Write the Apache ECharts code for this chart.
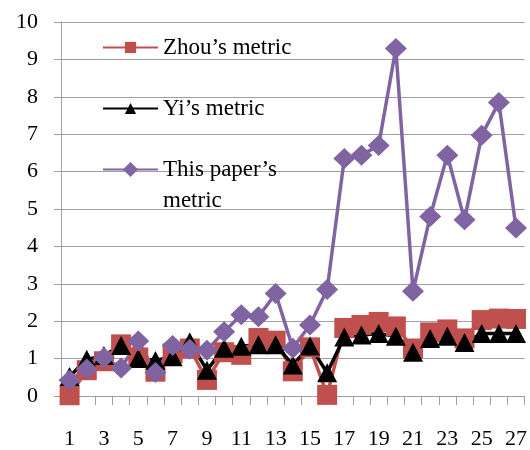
<!DOCTYPE html>
<html><head><meta charset="utf-8">
<script src="https://cdn.jsdelivr.net/npm/echarts@6/dist/echarts.min.js"></script>
<style>html,body{margin:0;padding:0;background:#fff}#c{width:530px;height:450px}</style>
</head><body><div id="c"></div>
<script>
const categories = ['1','2','3','4','5','6','7','8','9','10','11','12','13','14','15','16','17','18','19','20','21','22','23','24','25','26','27'];
const zhouName = 'Zhou’s metric';
const yiName = 'Yi’s metric';
const paperName = 'This paper’s';
const zhou = [0.02,0.69,0.93,1.38,1.03,0.65,1.14,1.27,0.43,1.17,1.10,1.55,1.48,0.66,1.30,0.03,1.82,1.90,1.98,1.86,1.27,1.70,1.78,1.54,2.03,2.07,2.06];
const yi = [0.52,0.98,1.08,1.35,1.00,0.95,1.05,1.45,0.69,1.28,1.33,1.37,1.37,0.83,1.34,0.62,1.58,1.63,1.67,1.60,1.17,1.54,1.60,1.43,1.67,1.67,1.67];
const paper = [0.42,0.72,1.02,0.75,1.47,0.63,1.35,1.25,1.22,1.72,2.17,2.12,2.74,1.28,1.90,2.85,6.35,6.44,6.70,9.29,2.80,4.80,6.44,4.71,6.97,7.85,4.49];
const yTicks = ['0','1','2','3','4','5','6','7','8','9','10'];

const FONT = '"Liberation Serif", "Times New Roman", serif';
const GRAY = '#a0a0a0';
const chart = echarts.init(document.getElementById('c'), null, {renderer: 'canvas'});
const legendBase = {
  orient: 'vertical', left: 102, padding: 0, itemWidth: 55, itemHeight: 14, selectedMode: false,
  textStyle: {fontFamily: FONT, fontSize: 23, color: '#000'}
};
chart.setOption({
  animation: false,
  backgroundColor: '#fff',
  grid: {left: 61, right: 4, top: 22, bottom: 53, containLabel: false},
  legend: [
    Object.assign({}, legendBase, {data: [zhouName], top: 36}),
    Object.assign({}, legendBase, {data: [yiName], top: 97}),
    Object.assign({}, legendBase, {data: [paperName], top: 158, itemHeight: 19})
  ],
  graphic: [{
    type: 'text', left: 163, top: 189,
    style: {text: 'metric', font: '23px ' + FONT, fill: '#000'}
  }],
  xAxis: {
    type: 'category', data: categories, boundaryGap: true,
    axisLine: {lineStyle: {color: GRAY, width: 1}},
    axisTick: {show: true, interval: 0, length: 9, lineStyle: {color: GRAY}},
    axisLabel: {interval: 1, margin: 32, fontFamily: FONT, fontSize: 22, color: '#000'},
    splitLine: {show: false}
  },
  yAxis: {
    type: 'value', min: 0, max: 10, interval: 1,
    axisLine: {show: true, lineStyle: {color: GRAY, width: 1}},
    axisTick: {show: true, length: 7, lineStyle: {color: GRAY}},
    axisLabel: {margin: 23, fontFamily: FONT, fontSize: 22, color: '#000',
      formatter: function (v) { return yTicks[Math.round(v)]; }},
    splitLine: {show: true, lineStyle: {color: GRAY, width: 1}}
  },
  series: [
    {name: zhouName, type: 'line', data: zhou, symbol: 'rect', symbolSize: 20, showAllSymbol: true,
     color: '#c0504d', lineStyle: {width: 3.5, color: '#c0504d'}, itemStyle: {color: '#c0504d'}},
    {name: yiName, type: 'line', data: yi, symbol: 'triangle', symbolSize: [20, 19], showAllSymbol: true,
     color: '#000', lineStyle: {width: 3.5, color: '#000'}, itemStyle: {color: '#000'}},
    {name: paperName, type: 'line', data: paper, symbol: 'diamond', symbolSize: [22, 21], showAllSymbol: true,
     color: '#8064a2', lineStyle: {width: 3.5, color: '#8064a2'}, itemStyle: {color: '#8064a2'}}
  ]
});
</script></body></html>
